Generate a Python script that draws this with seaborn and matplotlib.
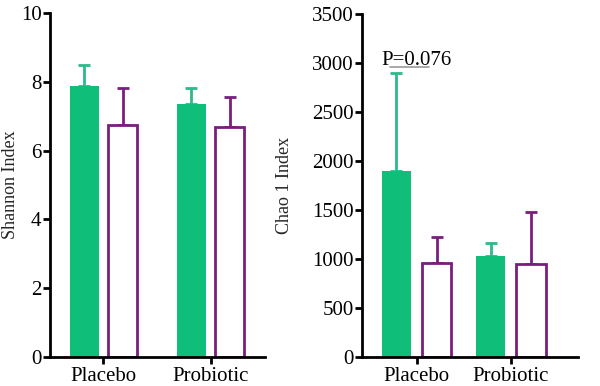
import matplotlib
matplotlib.use("Agg")
import matplotlib.pyplot as plt
import seaborn as sns
import pandas as pd

# datos
grupos = ["Placebo", "Probiotic"]
series = ["A", "B"]
shannon_media = [7.89, 6.76, 7.35, 6.68]
shannon_err = [0.60, 1.05, 0.48, 0.87]
chao1_media = [1902, 958, 1036, 948]
chao1_err = [999, 272, 132, 530]
p_texto = "P=0.076"

verde = "#0FBE79"
verde_err = "#2DB98C"
morado = "#7A1E7E"

sns.set_style("ticks")
plt.rcParams["font.family"] = ["Liberation Serif", "DejaVu Serif"]

fig = plt.figure(figsize=(6, 3.86), dpi=100)
ax1 = fig.add_axes([0.083, 0.075, 0.359, 0.891])
ax2 = fig.add_axes([0.603, 0.074, 0.36, 0.890])


def dibujar(ax, medias, errores, ancho, hueco):
    df = pd.DataFrame({
        "grupo": [g for g in grupos for s in series],
        "serie": [s for g in grupos for s in series],
        "valor": medias,
    })
    sns.barplot(data=df, x="grupo", y="valor", hue="serie", order=grupos,
                hue_order=series, width=ancho, gap=hueco, ax=ax,
                palette=[verde, "white"], legend=False, errorbar=None,
                saturation=1)
    # barras en el orden de hue: primero A (placebo, probiotic), luego B
    barras = ax.patches[:4]
    orden = [0, 2, 1, 3]
    for i, b in enumerate(barras):
        k = orden[i]
        serie = series[k % 2]
        xc = b.get_x() + b.get_width() / 2
        if serie == "A":
            b.set_edgecolor(verde)
            b.set_linewidth(0)
            col = verde_err
        else:
            b.set_facecolor("white")
            b.set_edgecolor(morado)
            b.set_linewidth(2)
            col = morado
        ax.errorbar(xc, medias[k], yerr=[[0], [errores[k]]], color=col,
                    capsize=4.5, elinewidth=2, capthick=2, zorder=1)
    for b in barras:
        b.set_zorder(2)
    sns.despine(ax=ax)
    for s in ["left", "bottom"]:
        ax.spines[s].set_linewidth(2)
        ax.spines[s].set_color("black")
    ax.tick_params(axis="both", width=2, length=5, color="black",
                   labelcolor="black")
    ax.tick_params(axis="y", labelsize=15, pad=1)
    ax.tick_params(axis="x", labelsize=15, pad=2)
    ax.set_xlabel("")


dibujar(ax1, shannon_media, shannon_err, 0.72, 0.25)
ax1.set_xlim(-0.5, 1.51)
ax1.set_ylim(0, 10)
ax1.set_yticks([0, 2, 4, 6, 8, 10])
ax1.set_ylabel("Shannon Index", fontsize=13)
ax1.yaxis.set_label_coords(-0.145, 0.5)

dibujar(ax2, chao1_media, chao1_err, 0.85, 0.27)
ax2.set_xlim(-0.58, 1.71)
ax2.set_ylim(0, 3500)
ax2.set_yticks(range(0, 3501, 500))
ax2.set_ylabel("Chao 1 Index", fontsize=13)
ax2.yaxis.set_label_coords(-0.32, 0.5)

ax2.text(0, 3030, p_texto, ha="center", va="center", fontsize=15,
         color="black")
ax2.plot([-0.28, 0.13], [2960, 2960], color="#9a9a9a", lw=1.2)

fig.savefig("out.png", dpi=100)
